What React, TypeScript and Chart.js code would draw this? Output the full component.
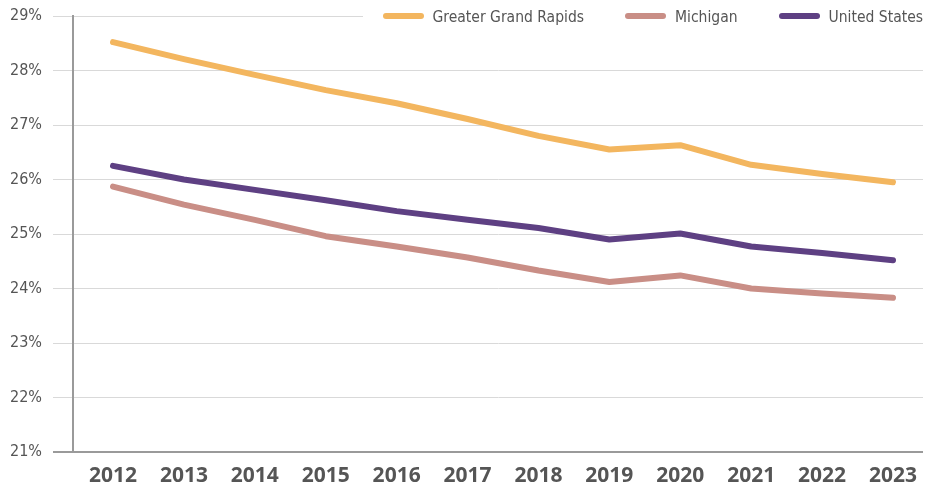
import React, { useEffect, useRef } from "react";
import { Chart, registerables } from "chart.js";

Chart.register(...registerables);

const years = [2012, 2013, 2014, 2015, 2016, 2017, 2018, 2019, 2020, 2021, 2022, 2023];
const greaterGrandRapids = [28.52, 28.21, 27.92, 27.64, 27.4, 27.11, 26.8, 26.55, 26.63, 26.27, 26.1, 25.95];
const michigan = [25.87, 25.54, 25.26, 24.96, 24.77, 24.57, 24.33, 24.12, 24.24, 24.0, 23.91, 23.83];
const unitedStates = [26.25, 26.0, 25.81, 25.62, 25.42, 25.26, 25.11, 24.9, 25.01, 24.77, 24.65, 24.52];
const yTicks = [21, 22, 23, 24, 25, 26, 27, 28, 29];

const seriesNames = ["Greater Grand Rapids", "Michigan", "United States"];
const seriesColors = ["#F3B65F", "#C98E86", "#5E4083"];
const seriesValues = [greaterGrandRapids, michigan, unitedStates];

const CONDENSED = "'DejaVu Sans', sans-serif";

export default function App() {
  const ref = useRef<HTMLCanvasElement>(null);

  useEffect(() => {
    document.documentElement.style.overflow = "hidden";
    const canvas = ref.current;
    if (!canvas) return;
    const chart = new Chart(canvas, {
      type: "line",
      data: {
        datasets: seriesNames.map((name, k) => ({
          label: name,
          data: seriesValues[k].map((v, i) => ({ x: years[i], y: v })),
          borderColor: seriesColors[k],
          backgroundColor: seriesColors[k],
          borderWidth: 6,
          borderCapStyle: "round",
          borderJoinStyle: "round",
          pointRadius: 0,
          tension: 0,
        })),
      },
      options: {
        animation: false,
        responsive: false,
        maintainAspectRatio: false,
        layout: { padding: { top: 0, right: 17, left: 0, bottom: 0 } },
        plugins: { legend: { display: false }, tooltip: { enabled: false } },
        scales: {
          x: {
            type: "linear",
            min: 2011.436,
            max: 2023.423,
            afterBuildTicks: (s: any) => {
              s.ticks = years.map((v) => ({ value: v }));
            },
            afterFit: (s: any) => {
              s.height = 33;
            },
            grid: { display: false, drawTicks: false },
            border: { display: false },
            ticks: {
              autoSkip: false,
              maxRotation: 0,
              padding: 11,
              color: "#555555",
              font: { family: "'Open Sans', sans-serif", size: 21, weight: "bold" },
              callback: (v: any) => String(v),
            },
          },
          y: {
            type: "linear",
            min: 21,
            max: 29,
            afterFit: (s: any) => {
              s.width = 65;
              s.paddingTop = 8;
              s.paddingBottom = 0;
            },
            afterBuildTicks: (s: any) => {
              s.ticks = yTicks.map((v) => ({ value: v }));
            },
            grid: {
              color: (c: any) => (c.tick && c.tick.value === 21 ? "#9a9a9a" : "#d9d9d9"),
              lineWidth: (c: any) => (c.tick && c.tick.value === 21 ? 2 : 1),
              tickLength: 20,
              drawTicks: true,
            },
            border: { display: true, color: "#9a9a9a", width: 2 },
            ticks: {
              padding: 11,
              color: "#555555",
              font: { family: CONDENSED, size: 16, weight: "condensed", lineHeight: 1 },
              callback: (v: any) => `${v}%`,
            },
          },
        },
      },
    } as any);
    return () => chart.destroy();
  }, []);

  return (
    <div style={{ position: "relative", width: 932, height: 477 }}>
      <canvas ref={ref} width={932} height={477} style={{ display: "block" }} />
      <div
        style={{
          position: "absolute",
          left: 355,
          right: 0,
          top: 0,
          height: 16,
          background: "#ffffff",
          display: "flex",
          justifyContent: "flex-end",
          alignItems: "center",
          paddingRight: 17,
          boxSizing: "border-box",
        }}
      >
        {seriesNames.map((name, k) => (
          <div
            key={name}
            style={{
              display: "flex",
              alignItems: "center",
              marginLeft: k === 0 ? 0 : 41,
            }}
          >
            <span
              style={{
                display: "inline-block",
                width: 41,
                height: 6,
                borderRadius: 3,
                background: seriesColors[k],
                marginRight: 9,
              }}
            />
            <span
              style={{
                fontFamily: CONDENSED,
                fontStretch: "condensed",
                fontSize: 15.5,
                lineHeight: "16px",
                color: "#555555",
                whiteSpace: "nowrap",
                position: "relative",
                top: 1,
              }}
            >
              {name}
            </span>
          </div>
        ))}
      </div>
    </div>
  );
}
